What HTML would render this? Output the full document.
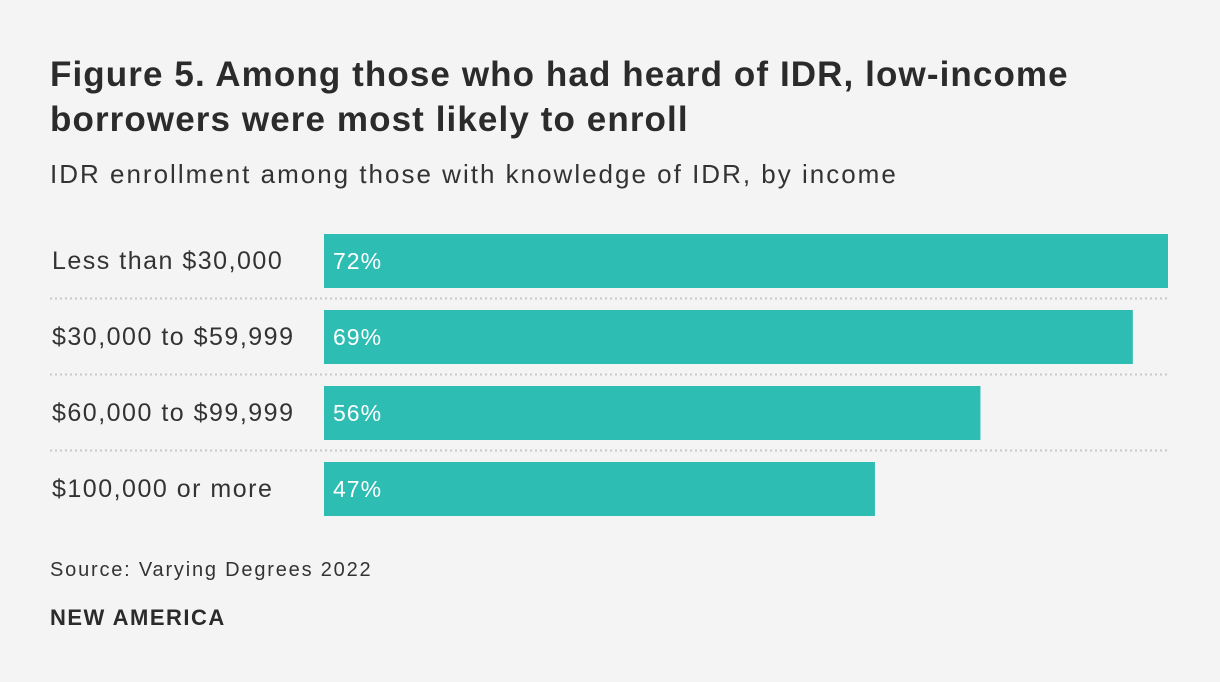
<!DOCTYPE html>
<html><head><meta charset="utf-8"><style>
body{margin:0;background:#f4f4f4;width:1220px;height:682px;overflow:hidden;font-family:"Liberation Sans",sans-serif;color:#333;position:relative}
.t{position:absolute;left:50px;top:52px;font-size:35px;font-weight:bold;line-height:45px;color:#2b2b2b;letter-spacing:1.1px;white-space:nowrap}
.s{position:absolute;left:50px;top:159px;font-size:26px;color:#333;letter-spacing:2px;white-space:nowrap}
.src{position:absolute;left:50px;top:559px;font-size:20px;color:#333;letter-spacing:1.8px}
.na{position:absolute;left:50px;top:605px;font-size:22px;font-weight:bold;color:#2b2b2b;letter-spacing:1.5px}
svg{position:absolute;left:0;top:0}
</style></head><body>
<div class="t">Figure 5. Among those who had heard of IDR, low-income<br>borrowers were most likely to enroll</div>
<div class="s">IDR enrollment among those with knowledge of IDR, by income</div>
<svg width="1220" height="682" id="chart"></svg>
<div class="src">Source: Varying Degrees 2022</div>
<div class="na">NEW AMERICA</div>
<script>
const categories=["Less than $30,000","$30,000 to $59,999","$60,000 to $99,999","$100,000 or more"];
const values=[72,69,56,47];
const labels=["72%","69%","56%","47%"];
const NS="http://www.w3.org/2000/svg";
const svg=document.getElementById('chart');
const x0=324,scale=844/72,y0=234,step=76,bh=54;
const x=v=>x0+v*scale;
const y=i=>y0+i*step;
function mk(t,a){const e=document.createElementNS(NS,t);for(const k in a)e.setAttribute(k,a[k]);svg.appendChild(e);return e;}
categories.forEach((c,i)=>{
  const r=mk('rect',{x:x0,y:y(i),width:x(values[i])-x0,height:bh,fill:'#2ebdb3'});
  
  
  const l=mk('text',{x:52,y:y(i)+35,'font-size':25,'letter-spacing':1.5,fill:'#333'});l.textContent=c;
  
  
  const v=mk('text',{x:x0+9,y:y(i)+35,'font-size':23,'letter-spacing':1,fill:'#fff'});v.textContent=labels[i];
  
  
  if(i<categories.length-1){
    const s=mk('line',{x1:50,x2:1168,y1:y(i)+bh+10.5,y2:y(i)+bh+10.5,stroke:'#c8c8c8','stroke-width':2,'stroke-dasharray':'2 3'});
    
    
  }
});
</script>
</body></html>
